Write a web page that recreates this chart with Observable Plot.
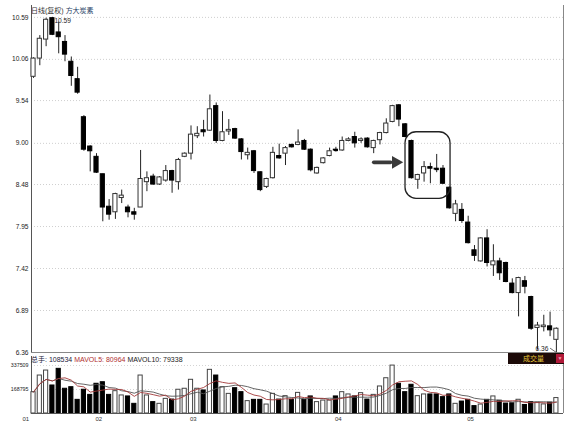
<!DOCTYPE html>
<html><head><meta charset="utf-8">
<script src="https://cdn.jsdelivr.net/npm/d3@7"></script>
<script src="https://cdn.jsdelivr.net/npm/@observablehq/plot@0.6"></script>
<style>
body{margin:0;background:#fff;}
#wrap{position:relative;width:576px;height:430px;overflow:hidden;background:#fff;font-family:"Liberation Sans","Noto Sans CJK SC",sans-serif;}
#wrap svg{position:absolute;left:0;}
.lbl{position:absolute;white-space:nowrap;line-height:1;}
</style></head><body>
<div id="wrap"></div>
<script>
// ---- data ----
const periodLabel = "日线(复权)";
const stockName = "方大炭素";
const openP  = [9.84,10.07,10.31,10.58,10.40,10.28,10.03,9.81,9.33,8.96,8.83,8.61,8.20,8.13,8.31,8.19,8.13,8.19,8.51,8.58,8.48,8.53,8.65,8.51,8.83,8.87,9.09,9.165,9.16,9.47,9.03,9.15,9.18,9.05,8.85,8.90,8.635,8.45,8.56,8.84,8.87,8.98,8.98,9.03,8.92,8.62,8.75,8.84,8.92,8.91,9.03,9.08,9.03,9.06,8.94,9.04,9.13,9.27,9.48,9.24,9.03,8.54,8.62,8.70,8.68,8.68,8.44,8.11,8.16,8.00,7.65,7.51,7.80,7.46,7.51,7.49,7.23,7.11,7.26,7.06,6.67,6.68,6.69,6.52];
const highP  = [10.08,10.36,10.58,10.59,10.53,10.36,10.09,9.96,9.35,8.97,8.87,8.61,8.29,8.37,8.41,8.22,8.18,8.91,8.64,8.61,8.58,8.72,8.66,8.81,8.88,9.22,9.21,9.29,9.61,9.51,9.40,9.30,9.19,9.06,8.94,8.91,8.64,8.56,8.95,8.99,8.96,8.99,9.17,9.05,8.93,8.70,8.82,8.94,8.95,9.08,9.07,9.14,9.07,9.07,9.04,9.14,9.31,9.48,9.49,9.25,9.04,8.61,8.77,8.75,8.86,8.72,8.45,8.28,8.24,8.08,7.71,7.81,7.91,7.72,7.55,7.50,7.29,7.31,7.32,7.07,6.74,6.83,6.87,6.67];
const lowP   = [9.82,9.98,10.22,10.36,10.13,10.03,9.72,9.62,8.90,8.64,8.62,8.01,8.03,8.04,8.24,8.06,8.03,8.19,8.39,8.47,8.47,8.51,8.37,8.41,8.82,8.79,9.06,9.08,9.15,9.00,9.02,9.10,9.05,8.79,8.79,8.62,8.39,8.43,8.55,8.80,8.72,8.94,8.97,8.91,8.64,8.61,8.74,8.83,8.89,8.90,9.02,8.94,9.00,8.94,8.87,8.98,9.12,9.26,9.21,9.07,8.55,8.42,8.51,8.49,8.63,8.48,8.17,8.01,7.99,7.73,7.51,7.50,7.44,7.32,7.27,7.24,7.10,6.81,7.10,6.64,6.39,6.62,6.56,6.36];
const closeP = [10.07,10.32,10.56,10.37,10.34,10.12,9.85,9.64,8.92,8.90,8.63,8.19,8.10,8.36,8.34,8.13,8.10,8.55,8.56,8.48,8.57,8.65,8.53,8.79,8.87,9.11,9.12,9.14,9.43,9.03,9.14,9.17,9.06,8.89,8.88,8.65,8.41,8.55,8.88,8.81,8.94,8.95,9.01,8.92,8.66,8.69,8.81,8.90,8.91,9.03,9.05,9.00,9.05,8.95,9.03,9.13,9.25,9.47,9.30,9.08,8.56,8.60,8.70,8.68,8.67,8.49,8.18,8.23,8.02,7.74,7.58,7.80,7.49,7.51,7.36,7.25,7.11,7.30,7.19,6.66,6.70,6.70,6.64,6.66];
const volume = [150000,267000,302000,197000,314000,174000,185000,96000,167000,131000,209000,220000,131000,157000,127000,120000,68000,267000,127000,80000,68000,103000,98000,167000,174000,237000,174000,162000,307000,267000,185000,138000,178000,150000,87000,96000,96000,63000,138000,98000,122000,96000,145000,96000,120000,80000,91000,91000,120000,150000,134000,120000,143000,98000,131000,190000,248000,337000,209000,150000,202000,122000,134000,134000,134000,115000,134000,68000,84000,96000,52000,63000,96000,120000,90000,70000,72000,96560,60000,80000,76000,64000,76286,108534];
const priceTicks = [10.59,10.06,9.54,9.00,8.48,7.95,7.42,6.89,6.36];
const volumeTicks = [337509,168795];
const monthLabels = ["01","02","03","04","05"];
const monthStart  = [-1.6,10,25,48,69];

// ---- derived ----
const candles = openP.map((o,i)=>({i,o,h:highP[i],l:lowP[i],c:closeP[i],v:volume[i],up:closeP[i]>=o}));
const upC = candles.filter(d=>d.up), downC = candles.filter(d=>!d.up);
const dojis = candles.filter(d=>Math.abs(d.o-d.c)<0.015);
function ma(k){return candles.map((d,i)=>{const w=volume.slice(Math.max(0,i-k+1),i+1);return {i,v:d3.mean(w)};});}
const ma5 = ma(5), ma10 = ma(10);
const last = candles[candles.length-1];
const mav5 = Math.round(ma5[ma5.length-1].v), mav10 = Math.round(ma10[ma10.length-1].v);
const hiC = d3.greatest(candles,d=>d.h), loC = d3.least(candles,d=>d.l);
const months = monthLabels.map((label,k)=>({label,i:monthStart[k]}));

const HW = 0.33;
const X = {type:"linear", domain:[-0.32, 84.13], axis:null};
const fontStyle = {fontFamily:"'Liberation Sans','Noto Sans CJK SC',sans-serif", fontSize:"7px", background:"transparent", overflow:"visible"};

const price = Plot.plot({
  width:576, height:356, marginLeft:31, marginRight:13, marginTop:5, marginBottom:4,
  x:X, y:{domain:[6.36,10.74], axis:null},
  style:fontStyle,
  marks:[
    Plot.ruleY(priceTicks.slice(0,-1), {stroke:"#cfcfcf", strokeDasharray:"1,2"}),
    Plot.ruleY(priceTicks.slice(-1), {stroke:"#888"}),
    Plot.ruleX([X.domain[0]], {stroke:"#555"}),
    Plot.ruleX([X.domain[1]], {stroke:"#888"}),
    Plot.text(priceTicks, {y:d=>d, text:d=>d.toFixed(2), frameAnchor:"left", textAnchor:"end", dx:-3, fill:"#222", fontSize:6.6}),
    Plot.ruleX(candles, {x:"i", y1:"l", y2:"h", stroke:"#222"}),
    Plot.rect(upC, {x1:d=>d.i-HW, x2:d=>d.i+HW, y1:"o", y2:"c", fill:"#fff", stroke:"#333"}),
    Plot.rect(downC, {x1:d=>d.i-HW, x2:d=>d.i+HW, y1:"o", y2:"c", fill:"#000", stroke:"#000"}),
    Plot.link(dojis, {x1:d=>d.i-HW, x2:d=>d.i+HW, y1:"c", y2:"c", stroke:"#000", strokeWidth:1.3}),
    Plot.text([hiC], {x:"i", y:"h", text:d=>d.h.toFixed(2), textAnchor:"start", dx:2, dy:3, fill:"#222", fontSize:6.6}),
    Plot.text([loC], {x:"i", y:"l", text:d=>d.l.toFixed(2), textAnchor:"end", dx:-8, dy:-4, fill:"#222", fontSize:6.6}),
    Plot.link([loC], {x1:d=>d.i-1.0, y1:d=>d.l+0.055, x2:"i", y2:"l", stroke:"#444", strokeWidth:0.8}),
    // annotation: rounded box around the consolidation and the pointing arrow
    Plot.rect([candles[60]], {x1:d=>d.i-0.95, x2:d=>d.i+6.2, y1:8.30, y2:9.14, fill:"none", stroke:"#222", strokeWidth:1.3, rx:11}),
    Plot.link([candles[60]], {x1:d=>d.i-6.0, x2:d=>d.i-3.3, y1:8.76, y2:8.76, stroke:"#3a3a3a", strokeWidth:3.6, strokeLinecap:"round"}),
    Plot.dot([candles[60]], {x:d=>d.i-2.5, y:8.76, symbol:"triangle", rotate:90, r:4.8, fill:"#3a3a3a", stroke:"none"})
  ]
});
price.style.top = "0px";

const vol = Plot.plot({
  width:576, height:74, marginLeft:31, marginRight:13, marginTop:0, marginBottom:17,
  x:X, y:{domain:[0, 400792], axis:null},
  style:fontStyle,
  marks:[
    Plot.ruleY(volumeTicks, {stroke:"#d4d4d4", strokeDasharray:"1,2"}),
    Plot.ruleX([X.domain[0]], {stroke:"#555"}),
    Plot.ruleX([X.domain[1]], {stroke:"#888"}),
    Plot.text(volumeTicks, {y:d=>d, text:d=>String(d), frameAnchor:"left", textAnchor:"end", dx:-3, fill:"#222", fontSize:5.3}),
    Plot.rect(upC, {x1:d=>d.i-HW, x2:d=>d.i+HW, y1:d=>0, y2:"v", fill:"#fff", stroke:"#444"}),
    Plot.rect(downC, {x1:d=>d.i-HW, x2:d=>d.i+HW, y1:d=>0, y2:"v", fill:"#000", stroke:"#000"}),
    Plot.line(ma10, {x:"i", y:"v", stroke:"#555", strokeWidth:0.9}),
    Plot.line(ma5, {x:"i", y:"v", stroke:"#a33a3a", strokeWidth:0.9}),
    Plot.ruleY([0], {stroke:"#555"}),
    Plot.text(months, {x:"i", text:"label", frameAnchor:"bottom", dy:7, textAnchor:"start", dx:-1, fill:"#333", fontSize:6})
  ]
});
vol.style.top = "356px";

const wrap = document.getElementById("wrap");
wrap.appendChild(price);
wrap.appendChild(vol);

function addLabel(html, left, top, size){
  const d = document.createElement("div");
  d.className = "lbl"; d.innerHTML = html;
  d.style.left = left+"px"; d.style.top = top+"px"; d.style.fontSize = size+"px";
  wrap.appendChild(d); return d;
}
addLabel(`<span style="color:#333">${periodLabel}</span> <span style="color:#1f3f66">${stockName}</span>`, 31, 7, 7);
addLabel(`<span style="color:#1a1a3a">总手: ${last.v}</span> <span style="color:#b03030">MAVOL5: ${mav5}</span> <span style="color:#1a1a1a">MAVOL10: ${mav10}</span>`, 31, 356, 7);
const box = addLabel(`<span style="position:absolute;left:15px;top:2px;color:#e6c83a;font-size:7px">成交量</span><span style="position:absolute;right:0;top:1px;width:8px;height:9px;background:#b01838;color:#f3a0b0;font-size:5px;text-align:center;line-height:9px">▼</span>`, 508, 353, 7);
box.style.width = "56px"; box.style.height = "11px"; box.style.background = "#1c0a08";
</script>
</body></html>
